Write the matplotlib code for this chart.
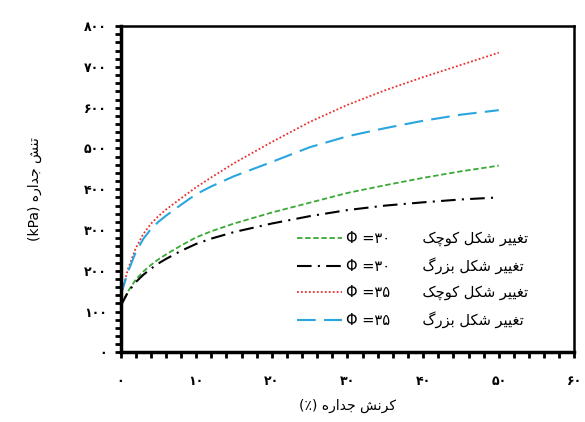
import matplotlib
matplotlib.use('Agg')
import matplotlib.pyplot as plt
from matplotlib.ticker import MultipleLocator, FixedLocator

plt.rcParams['font.family'] = ['DejaVu Sans']

# data
strain = [0, 1, 2, 3, 4, 5, 6, 8, 10, 12, 15, 20, 25, 30, 35, 40, 45, 50]
small_30 = [115, 150, 178, 198, 214, 228, 240, 262, 282, 297, 316, 343, 367, 391, 410, 428, 444, 458]
large_30 = [113, 148, 172, 190, 205, 218, 229, 249, 266, 279, 295, 316, 334, 349, 360, 368, 375, 380]
small_35 = [138, 205, 255, 290, 315, 334, 350, 378, 405, 429, 464, 516, 565, 607, 643, 675, 705, 735]
large_35 = [138, 198, 245, 278, 302, 320, 335, 362, 388, 407, 432, 467, 503, 530, 550, 568, 583, 594]

x_ticks = [0, 10, 20, 30, 40, 50, 60]
y_ticks = [0, 100, 200, 300, 400, 500, 600, 700, 800]

# arabic presentation forms: isolated, final, initial, medial
FORMS = {
    'ت': ('\uFE95', '\uFE96', '\uFE97', '\uFE98'),
    'ن': ('\uFEE5', '\uFEE6', '\uFEE7', '\uFEE8'),
    'ش': ('\uFEB5', '\uFEB6', '\uFEB7', '\uFEB8'),
    'ج': ('\uFE9D', '\uFE9E', '\uFE9F', '\uFEA0'),
    'د': ('\uFEA9', '\uFEAA'),
    'ا': ('\uFE8D', '\uFE8E'),
    'ر': ('\uFEAD', '\uFEAE'),
    'ز': ('\uFEAF', '\uFEB0'),
    'و': ('\uFEED', '\uFEEE'),
    'ه': ('\uFEE9', '\uFEEA', '\uFEEB', '\uFEEC'),
    'غ': ('\uFECD', '\uFECE', '\uFECF', '\uFED0'),
    'ی': ('\uFBFC', '\uFBFD', '\uFBFE', '\uFBFF'),
    'ک': ('\uFB8E', '\uFB8F', '\uFB90', '\uFB91'),
    'ل': ('\uFEDD', '\uFEDE', '\uFEDF', '\uFEE0'),
    'چ': ('\uFB7A', '\uFB7B', '\uFB7C', '\uFB7D'),
    'ب': ('\uFE8F', '\uFE90', '\uFE91', '\uFE92'),
    'گ': ('\uFB92', '\uFB93', '\uFB94', '\uFB95'),
}


def shape(word):
    out = []
    for i, c in enumerate(word):
        f = FORMS[c]
        prev = i > 0 and len(FORMS[word[i-1]]) == 4
        nxt = i < len(word)-1 and len(f) == 4
        if prev and nxt:
            g = f[3]
        elif prev:
            g = f[1]
        elif nxt:
            g = f[2]
        else:
            g = f[0]
        out.append(g)
    return ''.join(reversed(out))


def fa_digits(v):
    return str(v).translate(str.maketrans('0123456789', '۰۱۲۳۴۵۶۷۸۹'))


def rtl(*ws):
    # words given in reading order, returned in visual (left to right) order
    return ' '.join(shape(w) for w in reversed(ws))


def label(phi, kind):
    return 'Φ =' + fa_digits(phi) + '       ' + rtl('تغییر', 'شکل', kind)


fig = plt.figure(figsize=(5.85, 4.22), dpi=100)
ax = fig.add_axes([0.206, 0.165, 0.776, 0.773])

ax.plot(strain, small_30, color='#3aa935', lw=1.3, ls=(0, (3, 1.5)),
        label=label(30, 'کوچک'))
ax.plot(strain, large_30, color='black', lw=1.5, ls=(0, (7, 3, 1, 3)),
        label=label(30, 'بزرگ'))
ax.plot(strain, small_35, color='#e8302c', lw=1.3, ls=(0, (1, 1.2)),
        label=label(35, 'کوچک'))
ax.plot(strain, large_35, color='#2aa6df', lw=1.5, ls=(0, (9, 4)),
        label=label(35, 'بزرگ'))

ax.set_xlim(0, 60)
ax.set_ylim(0, 800)
ax.xaxis.set_major_locator(FixedLocator(x_ticks))
ax.yaxis.set_major_locator(FixedLocator(y_ticks))
ax.xaxis.set_minor_locator(MultipleLocator(2))
ax.yaxis.set_minor_locator(MultipleLocator(20))
ax.set_xticklabels([fa_digits(v) for v in x_ticks], fontsize=9, fontweight='bold')
ax.set_yticklabels([fa_digits(v) for v in y_ticks], fontsize=9, fontweight='bold')
ax.tick_params(which='both', direction='out', width=2, length=4)
ax.tick_params(axis='y', pad=6)
ax.tick_params(axis='x', pad=12)

for side in ['left', 'bottom']:
    ax.spines[side].set_linewidth(2.5)
for side in ['top', 'right']:
    ax.spines[side].set_linewidth(1.8)

ax.set_xlabel('(٪) ' + rtl('کرنش', 'جداره'), fontsize=10, labelpad=8)
ax.set_ylabel('(kPa) ' + rtl('تنش', 'جداره'), fontsize=10, labelpad=30)

ax.legend(loc='upper left', bbox_to_anchor=(0.375, 0.39), borderaxespad=0, frameon=False,
          fontsize=10.5, handlelength=3.1, handletextpad=0.3, labelspacing=0.75)

fig.savefig('out.png', dpi=100)
